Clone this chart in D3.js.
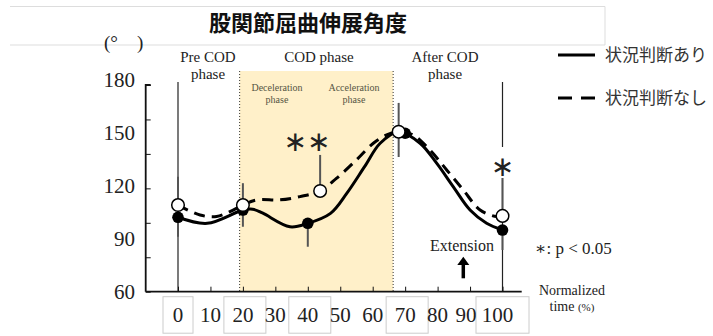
<!DOCTYPE html>
<html>
<head>
<meta charset="utf-8">
<script src="https://cdn.jsdelivr.net/npm/d3@7"></script>
<style>
  body { margin: 0; background: #fff; }
  svg { display: block; }
  .serif { font-family: "Liberation Serif", "DejaVu Serif", serif; fill: #222; }
  .jp { font-family: "Noto Sans CJK JP", sans-serif; }
</style>
</head>
<body>
<script>
// ---- data ----
const xTicks = [0, 10, 20, 30, 40, 50, 60, 70, 80, 90, 100];
const boxedTicks = [0, 20, 40, 70, 100];
const yLabels = [60, 90, 120, 150, 180];
const yTicks = [60, 80, 100, 120, 140, 160, 180];

// 状況判断あり (solid)
const withT = [0, 9, 20, 23, 26, 34.5, 40, 47, 52, 57.5, 62.3, 68, 74.6, 79.7, 84.8, 90, 95.1, 100];
const withV = [103.2, 99.7, 107.4, 107.9, 105.7, 97.7, 99.7, 105.5, 117.1, 132.6, 146.2, 152.9, 146.2, 134.6, 121, 107.4, 99.7, 95.8];
// 状況判断なし (dashed)
const withoutT = [0, 6.8, 11.9, 16, 20, 24.2, 31.4, 37.6, 43.8, 48.9, 55, 60.2, 64.3, 68, 72.5, 77.6, 82.8, 87.9, 93.1, 98.2, 100];
const withoutV = [110.3, 104.5, 103.6, 106.5, 110.3, 113.3, 113.3, 115.2, 118.5, 125.9, 136.5, 146.2, 151, 152.9, 151, 142.3, 130.7, 119.1, 107.4, 103.6, 104];

// key points (mean) and error bars
const filledT = [0, 20, 40, 70, 100];
const filledV = [103.2, 107.4, 99.7, 152, 95.8];
const openT = [0, 20, 43.8, 68, 100];
const openV = [110.3, 110.3, 118.5, 152.9, 104];
const barT = [0, 20, 40, 43.8, 68, 100, 100];
const barLo = [91.9, 97.7, 86.1, 118.5, 138.2, 104, 84.2];
const barHi = [126.8, 123, 99.7, 139.4, 169.6, 126, 95.8];

const W = 713, H = 336;
const svg = d3.select('body').append('svg').attr('width', W).attr('height', H);

const x = d3.scaleLinear().domain([0, 100]).range([178, 502.5]);
const y = d3.scaleLinear().domain([60, 180]).range([291.7, 85]);
const yLab = d3.scaleLinear().domain([60, 180]).range([291.7, 80]);

// title box
svg.append('path')
  .attr('d', 'M10,6.5 H605 V45 H10')
  .attr('fill', 'none').attr('stroke', '#ddd').attr('stroke-width', 1);
svg.append('text').attr('class', 'jp')
  .attr('x', 308).attr('y', 31).attr('text-anchor', 'middle')
  .attr('font-size', 22).attr('font-weight', 'bold').attr('fill', '#111')
  .text('股関節屈曲伸展角度');

// COD phase region
svg.append('rect')
  .attr('x', x(19)).attr('y', 71)
  .attr('width', x(66.3) - x(19)).attr('height', y(60) - 71)
  .attr('fill', '#fff0c9');
[19, 66.3].forEach(t => {
  svg.append('line')
    .attr('x1', x(t)).attr('x2', x(t)).attr('y1', 71).attr('y2', y(60))
    .attr('stroke', '#333').attr('stroke-width', 1).attr('stroke-dasharray', '1,2');
});

// reference lines at 0 and 100
svg.append('line')
  .attr('x1', x(0)).attr('x2', x(0)).attr('y1', y(180) - 3).attr('y2', y(60))
  .attr('stroke', '#222').attr('stroke-width', 1.2);
svg.append('line')
  .attr('x1', x(100)).attr('x2', x(100)).attr('y1', y(180) - 3).attr('y2', 147)
  .attr('stroke', '#222').attr('stroke-width', 1.2);
svg.append('line')
  .attr('x1', x(100)).attr('x2', x(100)).attr('y1', 178).attr('y2', y(60))
  .attr('stroke', '#222').attr('stroke-width', 1.2);

// axes
const yAxis = d3.axisRight(y).tickValues(yTicks).tickSize(5).tickFormat('');
const gy = svg.append('g').attr('transform', 'translate(145.7,0)').call(yAxis);
gy.select('.domain').attr('d', `M5,${y(180)}H0V${y(60)}`);
const xAxis = d3.axisTop(x).tickValues(xTicks).tickSize(5).tickFormat('');
const gx = svg.append('g').attr('transform', `translate(0,${y(60)})`).call(xAxis);
gx.select('.domain').attr('d', 'M145.7,0H521.7');
svg.selectAll('.domain').attr('stroke', '#111').attr('stroke-width', 1.8).attr('fill', 'none');
svg.selectAll('.tick line').attr('stroke', '#111').attr('stroke-width', 1);

// y labels
svg.selectAll('.ylab').data(yLabels).enter().append('text')
  .attr('class', 'serif')
  .attr('x', 135).attr('y', d => yLab(d)).attr('dy', '0.35em')
  .attr('text-anchor', 'end').attr('font-size', 21)
  .text(d => d);
svg.append('text').attr('class', 'serif')
  .attr('x', 104).attr('y', 49).attr('font-size', 19)
  .text('(°\u3000)');

// x labels with boxes
boxedTicks.forEach(t => {
  const w = t === 100 ? 53 : (t === 0 ? 30 : 42);
  const cx = t === 100 ? 502.5 : x(t) + (t === 0 ? 0 : 2);
  svg.append('rect')
    .attr('x', cx - w / 2).attr('y', 296.7).attr('width', w).attr('height', 36.5)
    .attr('fill', 'none').attr('stroke', '#ccc').attr('stroke-width', 1);
});
svg.selectAll('.xlab').data(xTicks).enter().append('text')
  .attr('class', 'serif')
  .attr('x', d => d === 100 ? x(d) - 5 : (d === 90 ? x(d) - 4 : x(d)))
  .attr('y', 315).attr('dy', '0.35em')
  .attr('text-anchor', 'middle').attr('font-size', 21)
  .text(d => d);

// phase labels
function multi(lines, cx, cy, size, fill, lh) {
  const t = svg.append('text').attr('class', 'serif')
    .attr('font-family', '"Liberation Serif", serif')
    .attr('text-anchor', 'middle').attr('font-size', size).style('fill', fill);
  lines.forEach((s, i) => t.append('tspan').attr('x', cx).attr('y', cy + i * lh).text(s));
}
multi(['Pre COD', 'phase'], 208, 62, 15, '#222', 17);
multi(['COD phase'], 319, 62, 15, '#222', 17);
multi(['After COD', 'phase'], 445, 62, 15, '#222', 17);
multi(['Deceleration', 'phase'], 277, 91, 10, '#554', 12);
multi(['Acceleration', 'phase'], 354, 91, 10, '#554', 12);

// error bars
svg.selectAll('.err').data(barT).enter().append('line')
  .attr('x1', d => x(d)).attr('x2', d => x(d))
  .attr('y1', (d, i) => y(barHi[i])).attr('y2', (d, i) => y(barLo[i]))
  .attr('stroke', '#555').attr('stroke-width', 2);

// lines
const line = d3.line().x(d => x(d[0])).y(d => y(d[1])).curve(d3.curveCatmullRom.alpha(0.5));
svg.append('path')
  .attr('d', line(withoutT.map((t, i) => [t, withoutV[i]])))
  .attr('fill', 'none').attr('stroke', '#000').attr('stroke-width', 3)
  .attr('stroke-dasharray', '11,7');
svg.append('path')
  .attr('d', line(withT.map((t, i) => [t, withV[i]])))
  .attr('fill', 'none').attr('stroke', '#000').attr('stroke-width', 3);

// markers
svg.selectAll('.filled').data(filledT).enter().append('circle')
  .attr('cx', d => x(d)).attr('cy', (d, i) => y(filledV[i])).attr('r', 5.8)
  .attr('fill', '#000');
svg.selectAll('.open').data(openT).enter().append('circle')
  .attr('cx', d => x(d)).attr('cy', (d, i) => y(openV[i])).attr('r', 6.3)
  .attr('fill', '#fff').attr('stroke', '#000').attr('stroke-width', 1.5);

// significance marks
svg.append('text')
  .attr('font-family', '"DejaVu Sans", sans-serif').attr('fill', '#222')
  .attr('x', 307).attr('y', 141).attr('dy', '0.35em').attr('text-anchor', 'middle')
  .attr('font-size', 28).text('\u2217\u2217');
svg.append('text')
  .attr('font-family', '"DejaVu Sans", sans-serif').attr('fill', '#222')
  .attr('x', x(100)).attr('y', 166).attr('dy', '0.35em').attr('text-anchor', 'middle')
  .attr('font-size', 28).text('\u2217');

// extension label + arrow
svg.append('text').attr('class', 'serif')
  .attr('x', 462).attr('y', 245).attr('dy', '0.35em').attr('text-anchor', 'middle')
  .attr('font-size', 16).text('Extension');
svg.append('line').attr('x1', 463.3).attr('x2', 463.3).attr('y1', 278.3).attr('y2', 264)
  .attr('stroke', '#000').attr('stroke-width', 3.5);
svg.append('path').attr('d', 'M457.3,265 L463.3,256.7 L469.3,265 Z').attr('fill', '#000');

svg.append('text').attr('class', 'serif')
  .attr('x', 535).attr('y', 248).attr('dy', '0.35em')
  .attr('font-size', 17).text('\u2217: p < 0.05');

multi(['Normalized'], 572, 295, 14, '#222', 16);
const tt = svg.append('text').attr('class', 'serif').attr('text-anchor', 'middle')
  .attr('font-family', '"Liberation Serif", serif')
  .attr('x', 572).attr('y', 311).attr('font-size', 14).style('fill', '#222');
tt.append('tspan').text('time ');
tt.append('tspan').attr('font-size', 11).text('(%)');

// legend
svg.append('line').attr('x1', 558).attr('x2', 595).attr('y1', 55).attr('y2', 55)
  .attr('stroke', '#000').attr('stroke-width', 3);
svg.append('line').attr('x1', 558).attr('x2', 595).attr('y1', 98).attr('y2', 98)
  .attr('stroke', '#000').attr('stroke-width', 3).attr('stroke-dasharray', '14,9');
svg.append('text').attr('class', 'jp').attr('x', 605).attr('y', 55).attr('dy', '0.35em')
  .attr('font-size', 17).attr('fill', '#333').text('状況判断あり');
svg.append('text').attr('class', 'jp').attr('x', 605).attr('y', 98).attr('dy', '0.35em')
  .attr('font-size', 17).attr('fill', '#333').text('状況判断なし');
</script>
</body>
</html>
